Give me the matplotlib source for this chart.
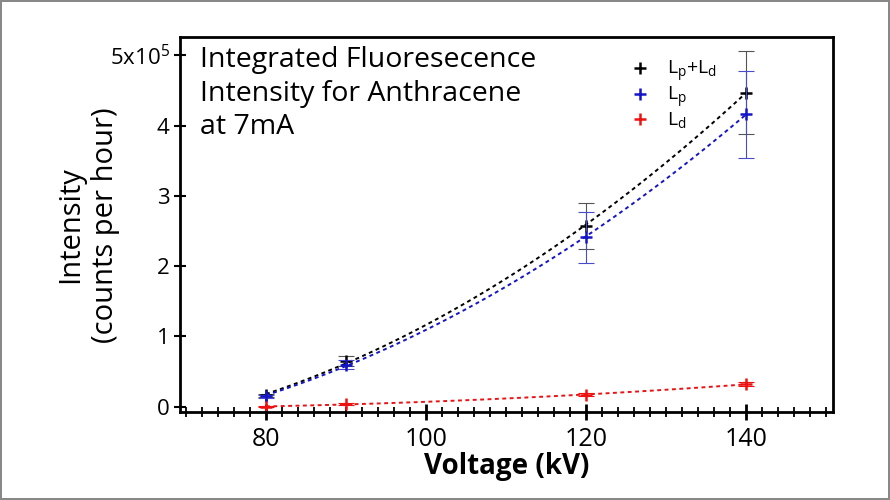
import numpy as np
import matplotlib
matplotlib.use("Agg")
import matplotlib.pyplot as plt
from matplotlib.ticker import MultipleLocator, FixedLocator

plt.rcParams['font.family'] = ['Open Sans', 'DejaVu Sans']
plt.rcParams['mathtext.fontset'] = 'custom'
plt.rcParams['mathtext.rm'] = 'Open Sans'

# data (intensity in units of 1e5 counts per hour)
voltage = [80, 90, 120, 140]
total = [0.16, 0.65, 2.57, 4.47]
total_err = [0.02, 0.07, 0.33, 0.59]
lp = [0.15, 0.60, 2.41, 4.16]
lp_err = [0.02, 0.07, 0.36, 0.62]
ld = [0.00, 0.04, 0.17, 0.32]
ld_err = [0.01, 0.01, 0.02, 0.03]

series = [
    (total, total_err, 'black', '#555555', r'L$_\mathrm{p}$+L$_\mathrm{d}$'),
    (lp, lp_err, '#1515c8', '#4a4ad0', r'L$_\mathrm{p}$'),
    (ld, ld_err, '#ee1111', '#ee1111', r'L$_\mathrm{d}$'),
]

fig = plt.figure(figsize=(8.9, 5), dpi=100)
fig.patch.set_edgecolor('#888888')
fig.patch.set_linewidth(1.5)
ax = fig.add_axes([180 / 890, 1 - 412 / 500, (833 - 180) / 890, (412 - 37) / 500])

xfit = np.linspace(80, 140, 100)
for y, err, col, ecol, lab in series:
    c = np.polyfit(voltage, y, 2)
    ax.plot(xfit, np.polyval(c, xfit), color=col, lw=1.4, ls=(0, (2, 1.8)))
    ax.errorbar(voltage, y, yerr=err, fmt='none', ecolor=ecol, elinewidth=0.8,
                capsize=6, capthick=0.8)
    ax.plot(voltage, y, ls='none', marker='+', ms=9, mew=1.8, color=col, label=lab)

ax.set_xlim(69.25, 150.9)
ax.set_ylim(-0.075, 5.26)
ax.xaxis.set_major_locator(FixedLocator([80, 100, 120, 140]))
ax.xaxis.set_minor_locator(MultipleLocator(2))
ax.set_yticks([0, 1, 2, 3, 4, 5])
ax.set_yticklabels(['0', '1', '2', '3', '4', r'5x10$^5$'])
ax.tick_params(axis='x', which='major', direction='inout', length=12, width=2, labelsize=18, pad=5)
ax.tick_params(axis='x', which='minor', direction='inout', length=7, width=1.3)
ax.tick_params(axis='y', which='major', direction='inout', length=9, width=1.5, labelsize=16, pad=3)
for s in ax.spines.values():
    s.set_linewidth(2)

ax.set_xlabel('Voltage (kV)', fontsize=20, fontweight='bold', labelpad=0)
fig.text(88 / 890, 1 - 225 / 500, 'Intensity\n(counts per hour)', fontsize=21,
         rotation=90, ha='center', va='center', linespacing=1.3, multialignment='center')

ax.text(0.03, 0.975, 'Integrated Fluoresecence\nIntensity for Anthracene\nat 7mA',
        transform=ax.transAxes, ha='left', va='top', fontsize=20.5, linespacing=1.25)

ax.legend(loc='upper left', bbox_to_anchor=(0.66, 0.99), frameon=False, fontsize=14,
          handlelength=1.2, handletextpad=0.8, labelspacing=0.05)

fig.savefig('out.png', dpi=100, edgecolor=fig.get_edgecolor())
